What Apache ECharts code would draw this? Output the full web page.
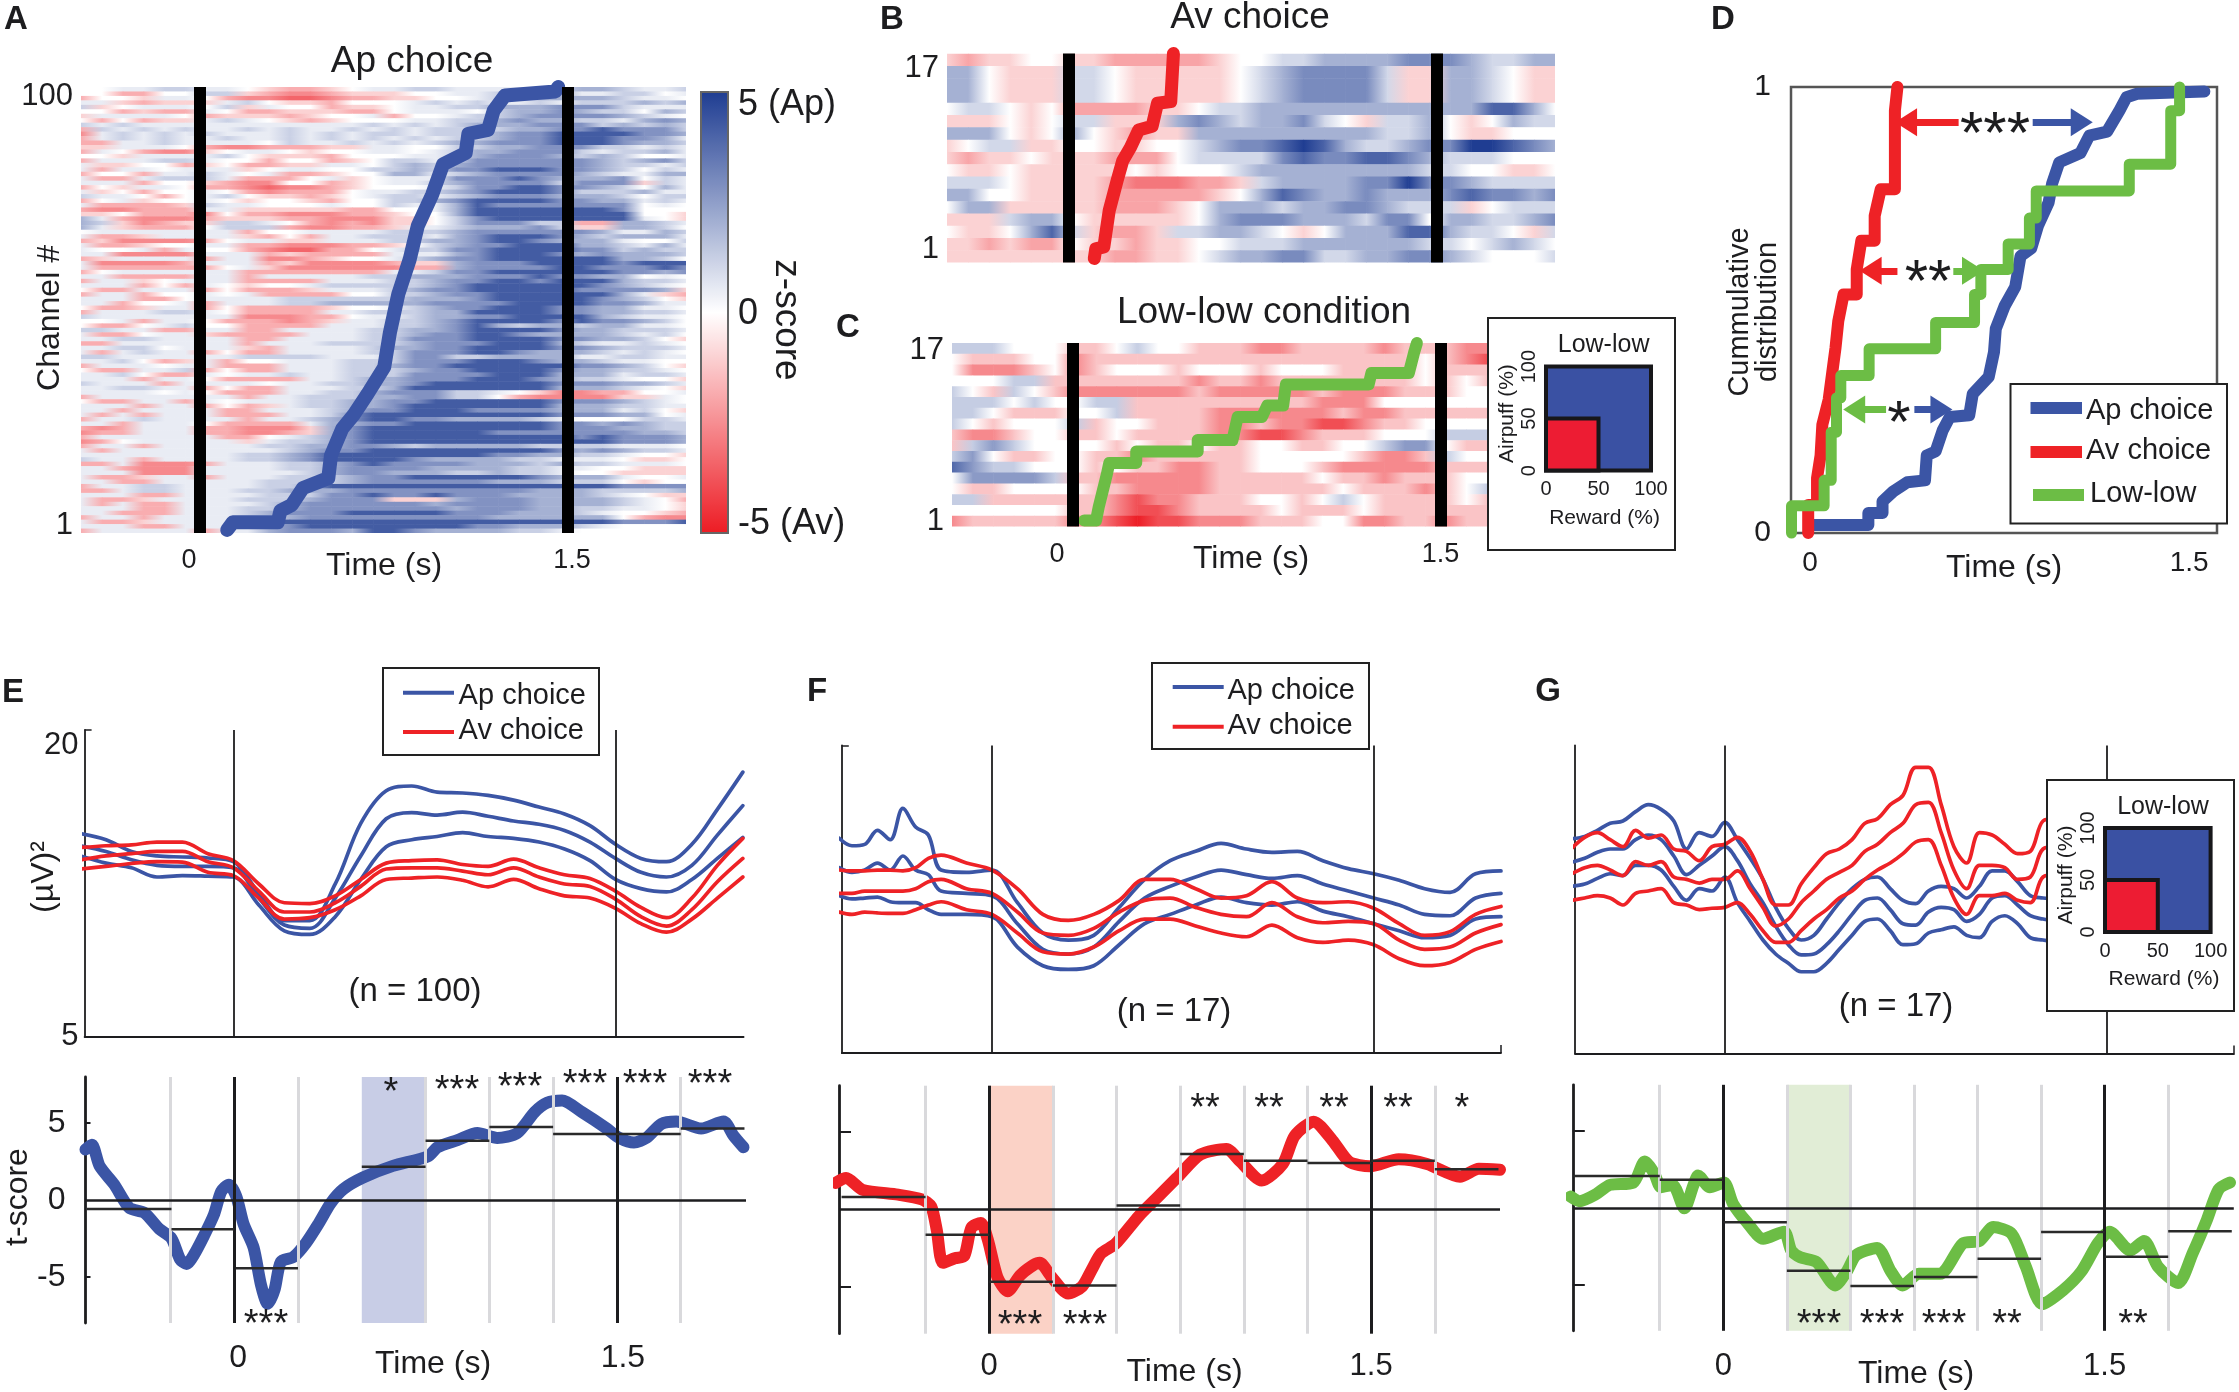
<!DOCTYPE html>
<html><head><meta charset="utf-8">
<script src="https://cdn.jsdelivr.net/npm/echarts@6/dist/echarts.min.js"></script>
<style>html,body{margin:0;padding:0;background:#fff}#c{width:2239px;height:1392px}</style>
</head><body><div id="c"></div>
<script>
// ---------- Data ----------
// Heatmap rows, top row first. Each digit is one time node; these tables give its z-score.
const heatADigits = [-3.4,-2.6,-1.8,-1,0,.5,1.2,2,2.8,4.2];
const heatBDigits = [-4,-3,-2,-1,0,1,2,3,4,5];
const heatCDigits = [-5,-3.9,-2.6,-1.3,0,1.3,2.6,3.9,5,5];
const heatA = [
"445566554322345566555566776556","442244663211233344556667556645","244355421100122334456677776554","553233356433244456565565666767",
"634555463544233455667778886555","442322542233322455546778766476","355554233323445244566788887654","424233565432344455667877665787",
"656555555555556565677788867676","265656556565565656666778898886","156565655565656656667889999887","256565565565656565667889998875",
"225565555465565656778889998776","335554211222335544667788866565","254211345543445545677888656675","443555564333244455678887676445",
"255566544244234665688888876786","533442342233554676788888876656","525545553455446676889998876465","244255654522344775678888765577",
"522566652224534555888987778465","555244321144234556788886888365","243554221011234445688998876475","534244542122245566789998666755",
"655424564332345665678887776466","245344543443244667899998877565","522223655444544655798888888454","211222553333322445799999998444",
"334222142211122344799999999443","752111233322111334689999999543","763123366542121334688866227765","753222466621122355677786337764",
"455555552445555666788888875576","522355553242556665789998767775","231111245533555667789987775446","522344552211122346788999776575",
"544525442100224566889999886766","551111555232222555789998787776","235555255112344567889999997764","511112555231111233788899998999",
"522222245311111122788889988898","245555552222222556889999998878","552222552555556677788898877454","255345552222555667889989997665",
"555242543445666667899999987654","422555242223555678899999888873","255244545222244667889999997532","555224555566666677789999987643",
"552445255566777778888999988755","422355242222344567889998877554","255566542222556667799998877665","655555551112245567788999976554",
"445255422212355667899998988764","422456442222555667897677677554","665522552255556677899998776665","522455322225556678899877776564",
"556655552255556688899998877643","225555552555666678889997655654","556645553255556778899998876665","525655242255556688899877765654",
"665555556666555688667777556655","556423524455566688899987765544","255545522255566788999999887643","422556242255566678899998776654",
"556422545565566688889997775665","555255422225567788899987665443","655525555455667789999998887765","556655242255566799999997776543",
"555545422255667888665431122445","255555552556667788664211113354","422552545556677889999998887654","555255242356677899999997776655",
"552555522555678899988887775643","525255522255689999999998887745","255655552556789988777765444665","552555422225778899999998878766",
"212555221113789999999998887766","122555221123789999998888888776","255555522456789999999999898887","124555553566789999999999998887",
"255255555667788767777766665554","525555555567889999999998787665","555555556678999999998877665443","655255556678999987777665554334",
"225111255566789888877767665554","552111555566788887777665544333","555111555556788777667665443333","522355255566678899999987775445",
"552255555666678888887776664344","255665555667999999999999998888","225665556677788888888877766667","555225555666889889888777765433",
"522355556667888333788877776542","525225555678888887888877776543","555225556678888888788877665543","552225556788899999888777654432",
"255255556678888888887777774211","522355558999999999999999998889","555225556789999999988777654444","255555255788879987777665444444"];
const heatB = [
"323344332222234455666677765566","664333554333334567777533665433","664333554333334567777533665433","664333554333334567777533665433",
"455434222233455666666666668864","333434553336765667543556434655","666434643233666666666556433444","345533443344567789865567799876",
"323343332224555578778876555444","433433333434445666666665544334","555433332111223566667797765555","664433332222234687667666787767",
"466333332223466656677655534555","333566433333467776665774665567","433468532235566543466688655435","332322433233445556666665545654",
"333333332233456677556677654445"];
const heatC = [
"555444334544333223333233322","433344233333333333333334321","422234234443444344433334333","444553333333233233333334343",
"543543222222322222322233344","555454455333333333222444444","554333445333322222232233333","543444534433322322112334444",
"322344334333322112333444555","356544443433433443344566433","564334433233333444443223544","765544434332233444322222333",
"466665332222233333433233344","433444433222233333343332345","553333332122333443454333343","444444332112333343334333333",
"233333221011222333442233233"];

// Onset traces over the heatmaps: time (s) and channel number.
const onsetAT = [.111,.134,.317,.328,.374,.42,.523,.534,.58,.625,.683,.751,.774,.808,.854,.888,.946,.991,1.083,1.094,1.174,1.197,1.243,1.449,1.46];
const onsetAR = [1.2,2.9,2.9,5.5,6.8,10.6,12.8,17.9,23.9,26.9,31.7,37.7,45.4,54,61.7,69.4,76.3,83.2,85.7,90,90.9,95.2,98.6,99.5,100.5];
const onsetBT = [.103,.109,.142,.164,.197,.219,.251,.284,.339,.361,.415,.426];
const onsetBR = [.84,1.62,1.78,4.74,7.23,8.79,9.88,11.28,11.59,13.46,13.6,17.5];
const onsetCT = [.046,.094,.105,.138,.148,.258,.258,.509,.509,.651,.672,.771,.793,.858,.869,1.207,1.218,1.371,1.393,1.404];
const onsetCR = [1.07,1.07,2.31,5.32,6.39,6.39,7.45,7.45,8.51,8.51,10.64,10.64,11.71,11.71,13.66,13.66,14.72,14.72,16.67,17.5];

// Panel D cumulative distributions
const cdfBlueT = [.014,.231,.231,.287,.287,.329,.385,.455,.462,.497,.525,.553,.63,.644,.707,.728,.735,.77,.812,.833,.875,.902,.944,.958,.986,1.07,1.105,1.175,1.224,1.252,1.294,1.56];
const cdfBlueC = [.018,.018,.045,.045,.071,.093,.114,.118,.174,.183,.23,.26,.264,.312,.35,.406,.458,.509,.552,.621,.638,.689,.741,.784,.831,.852,.891,.9,.947,.977,.985,.99];
const cdfRedT = [-.007,-.007,.028,.028,.042,.049,.074,.088,.101,.112,.133,.185,.185,.203,.256,.256,.28,.336,.336,.346];
const cdfRedC = [0,.063,.063,.123,.174,.243,.299,.359,.415,.475,.535,.535,.591,.655,.655,.711,.771,.771,.947,1];
const cdfGreenT = [-.073,-.073,.056,.056,.084,.084,.105,.105,.122,.122,.234,.234,.497,.497,.651,.651,.676,.676,.784,.784,.868,.868,.895,.895,1.263,1.263,1.427,1.427,1.462,1.462];
const cdfGreenC = [0,.061,.061,.118,.118,.226,.226,.303,.303,.353,.353,.413,.413,.472,.472,.535,.535,.591,.591,.648,.648,.706,.706,.767,.767,.827,.827,.947,.947,1];

// Panel E power (µV²): shared time nodes, three lines per choice
const eTime = [-.6,-.5,-.4,-.3,-.2,-.1,0,.1,.2,.3,.4,.5,.6,.7,.8,.9,1,1.1,1.2,1.3,1.4,1.5,1.6,1.7,1.8,1.9,2];
const eApUpper = [14.93,14.63,14.06,13.84,13.79,13.74,13.56,12.01,10.68,10.68,12.47,15.43,17.03,17.26,16.96,16.92,16.8,16.57,16.23,15.89,15.32,14.41,13.72,13.56,14.41,16.12,17.94];
const eApMean = [14.34,14.06,13.65,13.38,13.33,13.33,13.26,11.78,10.46,10.3,11.78,13.84,15.66,15.96,15.84,15.98,15.78,15.55,15.39,15.09,14.52,13.72,13.04,12.81,13.38,14.86,16.3];
const eApLower = [13.84,13.49,13.26,12.81,12.88,12.85,12.81,11.44,10.18,10,10.87,12.69,14.29,14.63,14.79,14.98,14.79,14.7,14.52,14.18,13.61,12.69,12.24,12.08,12.69,13.72,14.75];
const eAvUpper = [14.25,14.34,14.38,14.52,14.52,13.95,13.61,12.47,11.55,11.51,11.89,12.69,13.49,13.61,13.65,13.42,13.33,13.68,13.26,12.92,12.74,12.12,11.32,10.82,11.78,13.38,14.7];
const eAvMean = [13.65,13.84,13.95,14.06,14.06,13.56,13.26,12.12,11.1,11.1,11.55,12.35,13.2,13.26,13.26,13.1,12.92,13.26,12.81,12.47,12.35,11.73,10.87,10.41,11.21,12.58,13.72];
const eAvLower = [13.2,13.33,13.47,13.56,13.54,13.04,12.88,11.78,10.75,10.82,11.21,11.89,12.69,12.76,12.81,12.65,12.33,12.69,12.24,11.89,11.78,11.28,10.53,10.11,10.75,11.78,12.81];
// Panel E t-score
const eScoreT = [-.583,-.558,-.528,-.47,-.411,-.353,-.294,-.246,-.212,-.187,-.158,-.119,-.08,-.051,-.021,.008,.037,.076,.105,.131,.158,.183,.232,.281,.329,.378,.427,.505,.622,.758,.797,.875,.953,1.031,1.109,1.177,1.226,1.285,1.363,1.46,1.509,1.567,1.616,1.674,1.733,1.83,1.918,1.957,1.996];
const eScoreV = [3.28,3.59,2.22,1,-.52,-.82,-1.88,-2.49,-3.86,-4.16,-3.56,-2.34,-.97,.55,1,.24,-1.58,-3.1,-5.53,-6.75,-5.84,-4.01,-3.71,-2.8,-1.58,-.21,.7,1.46,2.22,2.83,3.43,3.89,4.35,4.04,4.35,5.71,6.32,6.47,5.71,4.65,4.04,3.74,4.04,4.95,5.11,4.65,5.11,4.19,3.43];
const eBinStart = [-.577,-.246,.006,.5,.75,1,1.25,1.5,1.75];
const eBinEnd = [-.246,0,.25,.75,1,1.25,1.5,1.75,2];
const eBinMean = [-.58,-1.91,-4.44,2.16,3.86,4.74,4.29,4.29,4.65];

// Panel F power: the axis is unlabelled, values are heights above the axis floor
const fTime = [-.6,-.55,-.5,-.45,-.4,-.35,-.3,-.25,-.2,-.1,0,.1,.2,.3,.4,.5,.6,.7,.8,.9,1,1.1,1.2,1.3,1.4,1.5,1.6,1.7,1.8,1.9,2];
const fApUpper = [460,444,447,477,457,524,484,467,392,387,392,322,257,242,252,312,372,412,432,449,437,430,432,412,395,384,370,352,344,384,390];
const fApMean = [397,387,392,407,392,422,392,382,347,342,337,277,222,212,227,282,332,357,377,392,382,374,380,362,347,332,317,297,294,332,342];
const fApLower = [337,330,332,334,324,322,322,307,297,297,292,227,187,179,187,232,277,297,317,334,322,317,324,304,292,277,262,247,252,287,292];
const fAvUpper = [392,390,390,392,392,390,397,417,424,407,392,352,297,284,297,327,372,372,352,332,337,367,332,322,324,310,277,252,260,297,314];
const fAvMean = [342,342,347,347,347,347,352,367,372,352,342,302,257,252,267,302,327,332,312,297,292,322,292,279,282,277,242,222,227,257,275];
const fAvLower = [302,297,302,300,299,299,307,317,324,307,297,257,217,212,227,262,287,287,272,257,249,274,247,237,242,232,202,187,194,222,239];
const fScoreT = [-.603,-.562,-.497,-.358,-.265,-.228,-.206,-.182,-.135,-.098,-.07,-.033,-.006,.032,.072,.124,.198,.245,.31,.365,.402,.439,.495,.588,.662,.736,.829,.931,.986,1.07,1.153,1.2,1.274,1.348,1.413,1.496,1.608,1.719,1.849,1.923,2.006];
const fScoreV = [1.73,2.04,1.28,.97,.67,.21,-1.31,-3.43,-3.13,-2.98,-1.16,-.85,-1.91,-4.35,-5.26,-4.19,-3.43,-4.35,-5.41,-4.95,-3.89,-2.83,-2.22,-.4,.82,2.04,3.56,3.92,3.1,1.88,2.95,4.77,5.68,4.47,3.1,2.8,3.25,2.95,2.13,2.64,2.58];
const fBinStart = [-.58,-.25,0,.25,.5,.75,1,1.25,1.5,1.75];
const fBinEnd = [-.25,0,.25,.5,.75,1,1.25,1.5,1.75,2];
const fBinMean = [.82,-1.61,-4.65,-4.89,.27,3.59,3.16,3.01,3.16,2.61];

// Panel G power, same convention as F
const gTime = [-.6,-.55,-.5,-.45,-.4,-.35,-.3,-.25,-.2,-.15,-.1,-.05,0,.05,.1,.15,.2,.25,.3,.35,.4,.45,.5,.55,.6,.65,.7,.75,.8,.85,.9,.95,1,1.05,1.1,1.15,1.2,1.25,1.3];
const gApUpper = [460,465,478,493,498,518,533,523,498,438,473,465,495,458,418,373,313,268,243,253,288,323,353,373,378,353,328,321,348,358,353,333,358,391,391,368,338,333,331];
const gApMean = [410,418,431,438,438,458,468,458,423,383,403,423,443,413,363,323,273,233,211,213,233,263,298,328,333,308,278,275,303,313,308,283,298,333,338,318,295,288,283];
const gApLower = [358,363,375,385,381,403,403,393,358,328,353,348,378,323,283,243,213,193,175,175,193,223,253,283,288,263,233,235,258,265,271,253,248,283,295,278,248,243,238];
const gAvUpper = [440,463,473,458,443,478,461,468,438,433,413,443,448,463,433,373,318,318,363,398,428,438,458,493,503,533,553,613,613,533,443,408,473,468,448,428,433,498,503];
const gAvMean = [385,398,403,393,381,411,403,411,378,373,365,373,373,391,353,313,273,288,323,348,373,388,403,433,448,473,493,533,538,473,393,353,403,403,398,373,378,438,443];
const gAvLower = [328,333,338,333,318,343,348,353,323,318,308,311,313,323,298,263,238,238,263,288,308,333,348,373,393,408,428,453,458,403,333,298,338,338,343,328,323,378,383];
const gScoreT = [-.601,-.565,-.501,-.446,-.354,-.309,-.272,-.245,-.199,-.153,-.117,-.099,-.053,.002,.038,.093,.157,.239,.267,.303,.367,.44,.486,.523,.605,.659,.705,.769,.852,.943,1.007,1.062,1.135,1.19,1.254,1.337,1.409,1.473,1.519,1.601,1.655,1.71,1.789,1.847,1.902,1.948,1.993];
const gScoreV = [.73,.43,.88,1.49,1.64,3.01,2.25,1.34,1.49,-.03,1.49,2.1,1.34,1.64,.27,-.94,-2.01,-1.55,-2.77,-3.22,-3.53,-5.05,-4.13,-3.07,-2.61,-4.13,-5.05,-4.29,-4.29,-2.31,-2.16,-1.25,-1.7,-3.83,-6.26,-5.35,-4.13,-2.31,-1.55,-2.77,-2.16,-3.83,-4.89,-2.92,-.79,1.19,1.64];
const gBinStart = [-.59,-.25,0,.25,.5,.75,1,1.25,1.5,1.75];
const gBinEnd = [-.25,0,.25,.5,.75,1,1.25,1.5,1.75,2];
const gBinMean = [2.07,1.82,-.94,-4.1,-5.08,-4.5,-3.31,-1.58,-3.19,-1.52];

const grayE = [-.25,.25,.75,1,1.25,1.75], grayF = [-.25,.25,.5,.75,1,1.25,1.75], grayG = [-.25,.25,.5,.75,1,1.25,1.75];
const shadeE = [.5,.75], shadeF = [0,.25], shadeG = [.25,.5];
const insetReward = [100,50], insetAirpuff = [100,50];
const timeTicks = [0,1.5];

// ---------- Styling and helpers ----------
const BLUE='#3b55a5', RED='#ee2226', GREEN='#6cbd45', INK='#1d1d1f', FONT='"Liberation Sans"';
const zip=(a,b)=>a.map((v,i)=>[v,b[i]]);
const grids=[],xAxes=[],yAxes=[],series=[],texts=[];
const hexA=[0xed,0x1c,0x24],hexW=[255,255,255],hexB=[0x1f,0x3d,0x92];
function zColor(z){const f=Math.min(1,Math.abs(z)/5),e=z<0?hexA:hexB;return 'rgb('+[0,1,2].map(i=>Math.round(hexW[i]+(e[i]-hexW[i])*f)).join(',')+')';}
function shift(map){const rich={};const keys={};Object.keys(map).forEach((k,i)=>{keys[k]='s'+i;rich['s'+i]={padding:map[k],fontSize:undefined};});
  return {formatter:v=>keys[v]?'{'+keys[v]+'|'+v+'}':''+v,rich};}
function panel(o){
  const i=grids.length;
  grids.push({left:o.box[0],top:o.box[1],width:o.box[2],height:o.box[3],containLabel:false,show:!!o.border,borderColor:'#555',borderWidth:o.border||0});
  const line=(w)=>({show:!!w,onZero:false,lineStyle:{color:INK,width:w||1}});
  xAxes.push({type:'value',gridIndex:i,min:o.x[0],max:o.x[1],z:o.z||3,splitLine:{show:false},axisLine:line(o.xLine),
    axisTick:{show:!!o.xTicks,customValues:o.xTicks,inside:true,length:8,lineStyle:{color:INK,width:1.5}},
    axisLabel:Object.assign({show:!!o.xLabels,customValues:o.xLabels,margin:o.xMargin||14,fontSize:o.xFont||27,fontFamily:FONT,color:INK,hideOverlap:false},o.xShift?(()=>{const s=shift(o.xShift);Object.values(s.rich).forEach(r=>{r.fontSize=o.xFont||27;r.fontFamily=FONT;r.color=INK});return s})():{})});
  yAxes.push({type:'value',gridIndex:i,min:o.y[0],max:o.y[1],z:o.z||3,splitLine:{show:false},axisLine:line(o.yLine),
    axisTick:{show:!!o.yTicks,customValues:o.yTicks,inside:true,length:o.yTickLen||9,lineStyle:{color:INK,width:o.yTickW||2}},
    axisLabel:Object.assign({show:!!o.yLabels,customValues:o.yLabels,margin:o.yMargin||8,fontSize:o.yFont||31,fontFamily:FONT,color:INK,rotate:o.yRotate||0,
      verticalAlignMaxLabel:o.vMax||null,verticalAlignMinLabel:o.vMin||null},o.yShift?(()=>{const s=shift(o.yShift);Object.values(s.rich).forEach(r=>{r.fontSize=o.yFont||31;r.fontFamily=FONT;r.color=INK});return s})():{})});
  return i;
}
function guide(i,z,spec){series.push(Object.assign({type:'line',xAxisIndex:i,yAxisIndex:i,data:[],z,silent:true,symbol:'none',animation:false},spec));}
function vlines(i,vals,color,width,z){guide(i,z,{markLine:{symbol:'none',silent:true,animation:false,label:{show:false},lineStyle:{color,width,type:'solid'},data:vals.map(v=>({xAxis:v}))}});}
function hline0(i,width,z){guide(i,z,{markLine:{symbol:'none',silent:true,animation:false,label:{show:false},lineStyle:{color:INK,width,type:'solid'},data:[{yAxis:0}]}});}
function shade(i,range,color){guide(i,1,{markArea:{silent:true,animation:false,itemStyle:{color},data:[[{xAxis:range[0]},{xAxis:range[1]}]]}});}
function trace(i,name,data,color,width,z,smooth){series.push({type:'line',name,xAxisIndex:i,yAxisIndex:i,data,symbol:'none',smooth:smooth||false,clip:false,z:z||4,animation:false,silent:true,
   lineStyle:{color,width,cap:'round',join:'round'},itemStyle:{color}});}
function heat(i,rows,ncol,tMin,tMax,digits){
  const step=(tMax-tMin)/(ncol-1),data=[];
  rows.forEach((s,r)=>{for(let j=0;j<ncol-1;j++){const a=digits[+s[Math.min(j,s.length-1)]],b=digits[+s[Math.min(j+1,s.length-1)]];data.push([tMin+j*step,rows.length-r,a,tMin+(j+1)*step,b]);}});
  series.push({type:'custom',xAxisIndex:i,yAxisIndex:i,data,z:2,silent:true,animation:false,progressive:0,clip:true,encode:{x:[0,3],y:1},
    renderItem(p,api){const A=api.coord([api.value(0),api.value(1)+.5]),B=api.coord([api.value(3),api.value(1)-.5]);
      return {type:'rect',shape:{x:A[0],y:A[1],width:B[0]-A[0]+.6,height:B[1]-A[1]+.5},style:{fill:new echarts.graphic.LinearGradient(0,0,1,0,[{offset:0,color:zColor(api.value(2))},{offset:1,color:zColor(api.value(4))}])}};}});
  return series.length-1;
}
function txt(t,x,y,size,o){o=o||{};const rot=o.rot||0;texts.push({type:'text',x:x+(rot?(rot>0?size*.06:-size*.06):0),y:y+(rot?0:size*.06),rotation:rot,z:o.z||60,silent:true,style:{text:t,fontSize:size,fontFamily:FONT,fontWeight:o.bold?'bold':'normal',fill:o.fill||INK,
   align:o.align||'center',textAlign:o.align||'center',verticalAlign:'middle',textVerticalAlign:'middle'}});}
function box(x,y,w,h,o){o=o||{};texts.push({type:'rect',silent:true,z:o.z||50,shape:{x,y,width:w,height:h},style:{fill:o.fill||'#fff',stroke:o.stroke||'#222',lineWidth:o.lw===undefined?2:o.lw}});}
function seg(x1,y1,x2,y2,color,lw,z){texts.push({type:'line',silent:true,z:z||55,shape:{x1,y1,x2,y2},style:{stroke:color,lineWidth:lw}});}
function stars(t,x,y,size){txt(t,x,y+size*.11,size,{z:70});}
function bins(i,s,e,m){series.push({type:'line',xAxisIndex:i,yAxisIndex:i,data:m.flatMap((v,k)=>[[s[k],v],[e[k],v],[e[k],null]]),connectNulls:false,symbol:'none',z:5,silent:true,animation:false,lineStyle:{color:'#2a2a2a',width:2.5}});}
function inset(bx,sq,yTitleX,cx,yRew,titleY){
  box(bx[0],bx[1],bx[2],bx[3],{z:100,stroke:'#222',lw:2});
  const i=panel({box:sq,x:[0,100],y:[0,100],z:102,xLabels:[0,50,100],xFont:20,xMargin:9,yLabels:[0,50,100],yFont:20,yRotate:90,yMargin:7});
  series.push({type:'custom',xAxisIndex:i,yAxisIndex:i,z:101,silent:true,animation:false,clip:false,data:[[insetReward[0],insetAirpuff[0],0],[insetReward[1],insetAirpuff[1],1]],encode:{x:0,y:1},
    renderItem(p,api){const a=api.coord([0,api.value(1)]),b=api.coord([api.value(0),0]);
      return {type:'rect',shape:{x:a[0],y:a[1],width:b[0]-a[0],height:b[1]-a[1]},style:{fill:api.value(2)?'#ed1c33':'#3a51a3',stroke:'#17171a',lineWidth:4}};}});
  txt('Low-low',cx,titleY,25,{z:105});
  txt('Reward (%)',cx+1,yRew,21,{z:105});
  txt('Airpuff (%)',yTitleX,sq[1]+sq[3]/2-5,21,{z:105,rot:Math.PI/2});
}

// ---------- Panel A ----------
const tA=[-.485,1.981];
let a=panel({box:[81,87,605,446],x:tA,y:[.5,100.5],xLabels:timeTicks,xShift:{0:[0,22,0,0],1.5:[0,0,0,8]},xMargin:14,yLabels:[1,100],yFont:31,yMargin:8,yShift:{100:[14,0,0,0],1:[0,0,10,0]}});
const heatAIdx=heat(a,heatA,30,tA[0],tA[1],heatADigits);
vlines(a,timeTicks,'#000',12,3);
trace(a,'Ap onset',zip(onsetAT,onsetAR),BLUE,14,4);
txt('Ap choice',412,60,37);txt('Time (s)',384,564,32);txt('Channel #',48,318,32,{rot:Math.PI/2});
txt('z-score',788,320,37,{rot:-Math.PI/2});
txt('5 (Ap)',738,103,36,{align:'left'});txt('0',738,312,36,{align:'left'});txt('-5 (Av)',738,522,36,{align:'left'});
box(701,92,27,441,{fill:'none',stroke:'#666',lw:2,z:70});

// ---------- Panel B ----------
const tB=[-.498,1.983];
let b=panel({box:[947,53.6,608,209],x:tB,y:[.5,17.5],yLabels:[1,17],yFont:31,yMargin:8,yShift:{17:[18,0,0,0],1:[0,0,14,0]}});
heat(b,heatB,30,tB[0],tB[1],heatBDigits);
vlines(b,timeTicks,'#000',12,3);
trace(b,'Av onset',zip(onsetBT,onsetBR),RED,13,4);
txt('Av choice',1250,16,37);

// ---------- Panel C ----------
const tC=[-.494,1.69];
let c=panel({box:[952,343,535,183.6],x:tC,y:[.5,17.5],xLabels:timeTicks,xShift:{0:[0,32,0,0]},xMargin:14,yLabels:[1,17],yFont:31,yMargin:8,yShift:{17:[4,0,0,0]}});
heat(c,heatC,27,tC[0],tC[1],heatCDigits);
vlines(c,timeTicks,'#000',12,3);
trace(c,'Low-low onset',zip(onsetCT,onsetCR),GREEN,12,4);
txt('Low-low condition',1264,311,37);txt('Time (s)',1251,557,32);
inset([1488,318,187,232],[1546,366.6,105,104],1505.5,1603.6,517,344);

// ---------- Panel D ----------
let d=panel({box:[1791,87,426,446],x:[-.075,1.61],y:[0,1],border:2.5,xLabels:timeTicks,xFont:28,xMargin:16,yLabels:[0,1],yFont:30,yMargin:20});
trace(d,'Ap choice',zip(cdfBlueT,cdfBlueC),BLUE,12,4);
trace(d,'Av choice',zip(cdfRedT,cdfRedC),RED,12,5);
trace(d,'Low-low',zip(cdfGreenT,cdfGreenC),GREEN,11,6);
function arrow(i,color,t1,t2,y){guide(i,7,{markLine:{symbol:['none','triangle'],symbolSize:[28,22],silent:true,animation:false,label:{show:false},lineStyle:{color,width:7,type:'solid'},itemStyle:{color},data:[[{coord:[t1,y]},{coord:[t2,y]}]]}});}
arrow(d,RED,.588,.38,.921);arrow(d,BLUE,.881,1.075,.921);
arrow(d,RED,.346,.24,.588);arrow(d,GREEN,.567,.645,.588);
arrow(d,GREEN,.301,.175,.277);arrow(d,BLUE,.413,.52,.277);
stars('***',1995,126,60);stars('**',1928,274,60);stars('*',1899,415,60);
txt('Time (s)',2004,566,32);txt('Cummulative',1738,312,29,{rot:Math.PI/2});txt('distribution',1766,312,29,{rot:Math.PI/2});
box(2010.5,384,216.5,139.5,{z:50});
seg(2030.5,408,2082,408,BLUE,12);seg(2030.5,452,2082,452,RED,12);seg(2033,495,2084,495,GREEN,12);
txt('Ap choice',2086,409,29,{align:'left'});txt('Av choice',2086,449,29,{align:'left'});txt('Low-low',2090,492,29,{align:'left'});

// ---------- Panels E, F, G: power above, t-score below ----------
function power(boxR,xr,yr,time,lines,thin,opts){
  const i=panel(Object.assign({box:boxR,x:xr,y:yr,xLine:1.8,yLine:1.8,yTickW:1.5,yTickLen:7},opts||{}));
  vlines(i,timeTicks,INK,1.8,3);
  lines.forEach(([n,v,col])=>trace(i,n,zip(time,v),col,thin,4,.35));
  return i;
}
function score(boxR,xr,tS,vS,color,gray,sh,shCol,s,e,m,opts){
  const i=panel(Object.assign({box:boxR,x:xr,y:[-8,8],yLine:2.8,yTicks:[-5,5],yTickLen:12,xLabels:timeTicks,xFont:31},opts||{}));
  shade(i,sh,shCol);
  vlines(i,gray,'#d9d9dc',3,2);
  vlines(i,timeTicks,INK,3,3);
  hline0(i,2.5,3);
  trace(i,'t-score',zip(tS,vS),color,12,4,.25);
  bins(i,s,e,m);
  return i;
}
const PW=3.7;
power([84.6,730,659,306.7],[-.584,2.003],[5,20],eTime,[['Ap upper',eApUpper,BLUE],['Ap mean',eApMean,BLUE],['Ap lower',eApLower,BLUE],['Av upper',eAvUpper,RED],['Av mean',eAvMean,RED],['Av lower',eAvLower,RED]],PW,
  {yLabels:[5,20],yTicks:[20],yFont:31,yMargin:6,vMax:'top'});
score([85.5,1077,660.5,246],[-.583,2.006],eScoreT,eScoreV,BLUE,grayE,shadeE,'#c8cde6',eBinStart,eBinEnd,eBinMean,
  {yLabels:[-5,0,5],yFont:32,yMargin:20,yTicks:[-5,5],yTickLen:5,xMargin:19,xFont:32,xShift:{0:[0,0,0,8],1.5:[0,0,0,12]}});
power([841.8,745.4,659.2,307.6],[-.59,2],[0,659],fTime,[['Ap upper',fApUpper,BLUE],['Ap mean',fApMean,BLUE],['Ap lower',fApLower,BLUE],['Av upper',fAvUpper,RED],['Av mean',fAvMean,RED],['Av lower',fAvLower,RED]],PW,
  {yTicks:[659],xTicks:[2]});
score([839,1085.7,661,248],[-.59,2.006],fScoreT,fScoreV,RED,grayF,shadeF,'#fbd2c6',fBinStart,fBinEnd,fBinMean,{xMargin:17});
power([1575,745.4,659,308],[-.588,2],[0,660],gTime,[['Ap upper',gApUpper,BLUE],['Ap mean',gApMean,BLUE],['Ap lower',gApLower,BLUE],['Av upper',gAvUpper,RED],['Av mean',gAvMean,RED],['Av lower',gAvLower,RED]],PW,
  {xTicks:[2]});
score([1572.8,1084.8,661,246],[-.592,2.008],gScoreT,gScoreV,GREEN,grayG,shadeG,'#e1edd6',gBinStart,gBinEnd,gBinMean,{xMargin:20});
inset([2047,780,187,231],[2105,828,105.6,104],2064.6,2163,978,806);

// E annotations
txt('(n = 100)',415,990,33);txt('(µV)²',42,877,32,{rot:Math.PI/2});txt('t-score',16,1197,32,{rot:Math.PI/2});txt('Time (s)',433,1362,32);
box(383,668,216,87,{z:50});seg(403,692.7,454,692.7,BLUE,4);seg(403,732,454,732,RED,4);
txt('Ap choice',458.6,694,29,{align:'left'});txt('Av choice',458.6,729,29,{align:'left'});
stars('*',391,1087,38);stars('***',457,1085,38);stars('***',520,1082,38);stars('***',585,1079,38);stars('***',645,1079,38);stars('***',710,1079,38);stars('***',266,1319,38);
// F annotations
txt('(n = 17)',1174,1010,33);txt('Time (s)',1184.5,1370.5,32);
box(1152,663,217,86,{z:50});seg(1172.7,687,1223.7,687,BLUE,4);seg(1172.7,726.8,1223.7,726.8,RED,4);
txt('Ap choice',1227.5,689,29,{align:'left'});txt('Av choice',1227.5,724,29,{align:'left'});
stars('***',1020,1320,38);stars('***',1085,1320,38);stars('**',1205,1103,38);stars('**',1269,1103,38);stars('**',1334,1103,38);stars('**',1398,1103,38);stars('*',1462,1103,38);
// G annotations
txt('(n = 17)',1896,1005,33);txt('Time (s)',1916,1372,32);
stars('***',1819,1319,38);stars('***',1882,1319,38);stars('***',1944,1319,38);stars('**',2007,1319,38);stars('**',2133,1319,38);

// Panel letters
[['A',16,18],['B',892,18],['C',848,326],['D',1723,18],['E',13,691],['F',817,690],['G',1548,690]].forEach(([l,x,y])=>txt(l,x,y,33,{bold:true,z:80}));

const option={animation:false,backgroundColor:'#fff',textStyle:{fontFamily:FONT},tooltip:{show:false},
  grid:grids,xAxis:xAxes,yAxis:yAxes,series,
  visualMap:[{type:'continuous',seriesIndex:heatAIdx,dimension:2,min:-5,max:5,left:701,top:92,itemWidth:27,itemHeight:441,padding:0,text:null,showLabel:false,calculable:false,hoverLink:false,realtime:false,
     inRange:{color:[zColor(-5),'#ffffff',zColor(5)]},textStyle:{fontSize:0},silent:true}],
  graphic:{elements:texts}};
const chart=echarts.init(document.getElementById('c'),null,{renderer:'canvas',width:2239,height:1392});
chart.setOption(option);
</script></body></html>
